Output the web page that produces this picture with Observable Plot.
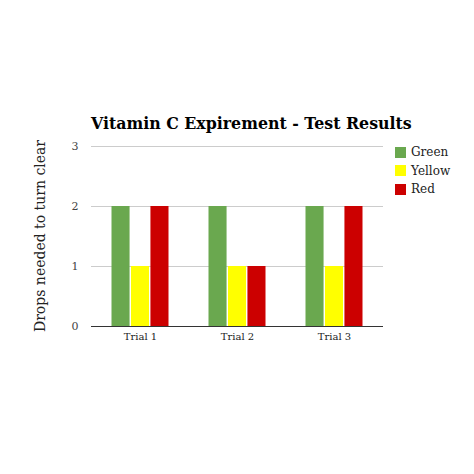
<!DOCTYPE html>
<html>
<head>
<meta charset="utf-8">
<script src="https://cdn.jsdelivr.net/npm/d3@7"></script>
<script src="https://cdn.jsdelivr.net/npm/@observablehq/plot@0.6"></script>
<style>
  body { margin: 0; background: #fff; }
  #chart { position: relative; width: 474px; height: 474px; font-family: "DejaVu Serif", serif; }
  #chart svg { position: absolute; left: 0; top: 0; }
  .title { position: absolute; left: 91px; top: 114px; font-size: 15.8px; font-weight: bold; line-height: 20px; white-space: nowrap; color: #000; }
  .ylabel { position: absolute; left: 40px; top: 236px; font-size: 14px; white-space: nowrap; color: #222;
            transform: translate(-50%, -50%) rotate(-90deg); }
  .legend { position: absolute; left: 395px; top: 143px; font-size: 12px; color: #222; }
  .legend div { display: flex; align-items: center; height: 18.5px; }
  .legend span.sw { width: 11px; height: 11px; margin-right: 5px; display: inline-block; }
</style>
</head>
<body>
<div id="chart"></div>
<script>
const trials = ["Trial 1", "Trial 2", "Trial 3"];
const series = ["Green", "Yellow", "Red"];
const colors = ["#6aa84f", "#ffff00", "#cc0000"];
const green = [2, 2, 2];
const yellow = [1, 1, 1];
const red = [2, 1, 2];
const yTicks = [0, 1, 2, 3];

const values = [green, yellow, red];
const rows = trials.flatMap((t, i) =>
  series.map((s, j) => ({trial: t, series: s, value: values[j][i]}))
);

const W = 474, mL = 91, mR = 91;
const step = (W - mL - mR) / 3;
const bw = step * 0.6, sub = bw / 3;

const container = document.getElementById("chart");

const plot = Plot.plot({
  width: W,
  height: 474,
  marginTop: 146,
  marginBottom: 148,
  marginLeft: mL,
  marginRight: mR,
  style: {fontFamily: "DejaVu Serif", background: "transparent"},
  x: {domain: trials, paddingInner: 0.4, paddingOuter: 0.2, label: null},
  y: {domain: [0, 3], label: null},
  marks: [
    Plot.ruleY([1, 2, 3], {stroke: "#cccccc", strokeWidth: 1}),
    ...series.map((s, j) =>
      Plot.barY(rows.filter((d) => d.series === s), {
        x: "trial",
        y: "value",
        fill: colors[j],
        insetLeft: j * sub + 0.5,
        insetRight: (2 - j) * sub + 0.5
      })
    ),
    Plot.ruleY([0], {stroke: "#333", strokeWidth: 1}),
    Plot.axisY({ticks: yTicks, tickFormat: "d", tickSize: 0, tickPadding: 13, fontSize: 11, fill: "#444", label: null}),
    Plot.axisX({tickSize: 0, tickPadding: 6, fontSize: 10, fill: "#222", label: null})
  ]
});
container.append(plot);

const title = document.createElement("div");
title.className = "title";
title.textContent = "Vitamin C Expirement - Test Results";
container.append(title);

const ylab = document.createElement("div");
ylab.className = "ylabel";
ylab.textContent = "Drops needed to turn clear";
container.append(ylab);

const legend = document.createElement("div");
legend.className = "legend";
series.forEach((s, j) => {
  const row = document.createElement("div");
  row.innerHTML = `<span class="sw" style="background:${colors[j]}"></span>${s}`;
  legend.append(row);
});
container.append(legend);
</script>
</body>
</html>
